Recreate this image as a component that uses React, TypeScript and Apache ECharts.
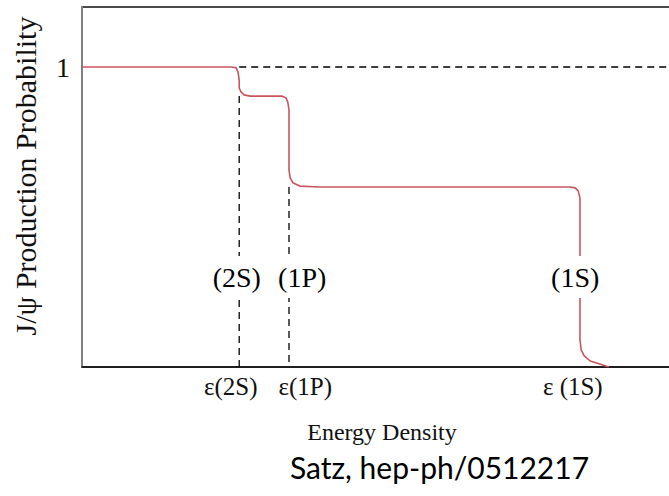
import React, { useEffect, useRef } from "react";
import * as echarts from "echarts";

// J/psi survival curve: energy density (arbitrary units) vs production probability
const curveX = [
  0, 25, 25.7, 26, 26.2, 26.2, 26.5, 27, 28, 33.3, 34, 34.3, 34.5, 34.5, 34.7,
  35.2, 36.3, 39.7, 81.3, 82.2, 82.7, 83, 83, 83.2, 83.7, 84.7, 86.3, 87.8,
];
const curveY = [
  1.0, 1.0, 0.997, 0.983, 0.957, 0.93, 0.917, 0.907, 0.903, 0.903, 0.897,
  0.883, 0.857, 0.657, 0.63, 0.613, 0.603, 0.6, 0.6, 0.597, 0.587, 0.563,
  0.09, 0.057, 0.037, 0.02, 0.01, 0.0,
];

// dissociation thresholds of the charmonium states
const states = ["2S", "1P", "1S"];
const thresholdX = [26.2, 34.5, 83];
const levelBelow = [0.903, 0.6];
const stateLabelX = [25.8, 36.7, 82.2];
const stateLabelY = 0.3;
const tickLabelX = [24.8, 37.2, 81.8];
const tickLabels = ["ε(2S)", "ε(1P)", "ε (1S)"];
const yTicks = [1];

const serif = "'Liberation Serif', 'DejaVu Serif', serif";

export default function App() {
  const ref = useRef<HTMLDivElement>(null);

  useEffect(() => {
    document.body.style.margin = "0";
    if (!ref.current) return;
    const chart = echarts.init(ref.current, null, { renderer: "svg" });

    const dashed = {
      type: "line",
      symbol: "none",
      silent: true,
      lineStyle: { color: "#000", width: 1.3, type: [7, 5] },
      z: 1,
    };

    chart.setOption({
      animation: false,
      backgroundColor: "#fff",
      grid: {
        left: 82,
        top: 7,
        right: -13,
        bottom: 129,
        outerBoundsMode: "none",
        containLabel: false,
        show: true,
        borderColor: "#111",
        borderWidth: 1.5,
      },
      xAxis: {
        type: "value",
        min: 0,
        max: 100,
        splitLine: { show: false },
        axisTick: { show: false },
        axisLine: { show: true, lineStyle: { color: "#111", width: 1.5 } },
        axisLabel: {
          customValues: tickLabelX,
          formatter: (v: number) => {
            const i = tickLabelX.indexOf(v);
            return i >= 0 ? tickLabels[i] : "";
          },
          color: "#111",
          fontFamily: serif,
          fontSize: 25,
          margin: 7,
        },
        name: "Energy Density",
        nameLocation: "middle",
        nameGap: 53,
        nameTextStyle: { fontFamily: serif, fontSize: 24, color: "#111" },
      },
      yAxis: {
        type: "value",
        min: 0,
        max: 1.2,
        splitLine: { show: false },
        axisTick: { show: false },
        axisLine: { show: true, lineStyle: { color: "#808080", width: 2 } },
        axisLabel: {
          customValues: yTicks,
          color: "#111",
          fontFamily: serif,
          fontSize: 28,
          margin: 12,
        },
        name: "J/ψ Production Probability",
        nameLocation: "middle",
        nameRotate: 90,
        nameGap: 42,
        nameTextStyle: {
          fontFamily: serif,
          fontSize: 30,
          color: "#111",
          padding: [0, 0, 0, 22],
        },
      },
      series: [
        {
          ...dashed,
          data: [
            [thresholdX[0], 1],
            [100, 1],
          ],
        },
        {
          ...dashed,
          data: [
            [thresholdX[0], levelBelow[0]],
            [thresholdX[0], 0],
          ],
        },
        {
          ...dashed,
          data: [
            [thresholdX[1], levelBelow[1]],
            [thresholdX[1], 0],
          ],
        },
        {
          type: "line",
          symbol: "none",
          data: curveX.map((x, i) => [x, curveY[i]]),
          lineStyle: { color: "#c9565c", width: 1.6 },
          z: 2,
        },
        {
          type: "scatter",
          symbolSize: 0,
          z: 5,
          itemStyle: { opacity: 1 },
          data: states.map((s, i) => ({
            value: [stateLabelX[i], stateLabelY],
            name: s,
          })),
          label: {
            show: true,
            position: "inside",
            formatter: (p: any) => `(${p.name})`,
            fontFamily: serif,
            fontSize: 28,
            color: "#000",
            backgroundColor: "#fff",
            padding: [7, 2],
          },
        },
      ],
      graphic: [
        {
          type: "text",
          left: 290,
          top: 452,
          style: {
            text: "Satz, hep-ph/0512217",
            fontFamily: "Lato, 'Noto Sans', sans-serif",
            fontSize: 30,
            fill: "#000",
          },
        },
      ],
    });

    return () => chart.dispose();
  }, []);

  return <div ref={ref} style={{ width: 669, height: 496 }} />;
}
